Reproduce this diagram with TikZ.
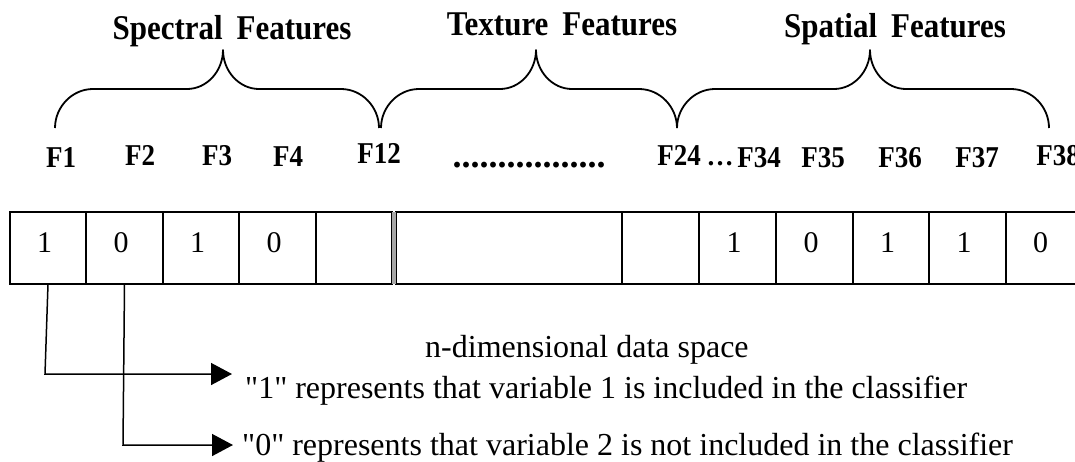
\documentclass[tikz,border=0pt]{standalone}
\usepackage{fontspec}
\setmainfont{Liberation Serif}[Ligatures=TeXOff]
\usetikzlibrary{arrows.meta}

% curly brace over a feature group: left end, tip, right end (x values)
\newcommand\featbrace[3]{%
  \draw[bracket] (#1,128) .. controls (#1,107) and (#1+17,89) .. (#1+38,89)
    -- (#2-36,89) .. controls (#2-16,89) and (#2,71) .. (#2,50)
    .. controls (#2,71) and (#2+16,89) .. (#2+36,89)
    -- (#3-38,89) .. controls (#3-17,89) and (#3,107) .. (#3,128);}
% slightly tall lettering for the headings
\newcommand\tallbox[1]{\scalebox{1}[1.12]{#1}}

\begin{document}
\begin{tikzpicture}[x=1pt,y=-1pt,
  cell/.style={draw, line width=1.6pt, minimum height=72pt, inner sep=0pt, outer sep=0pt},
  bit/.style={font=\fontsize{30}{36}\selectfont, inner sep=0pt},
  flabel/.style={font=\bfseries\fontsize{27}{32}\selectfont, inner sep=0pt, anchor=base},
  group/.style={font=\bfseries\fontsize{31}{37}\selectfont, inner sep=0pt, anchor=base},
  note/.style={font=\fontsize{32}{38}\selectfont, inner sep=0pt, anchor=base west},
  bracket/.style={line width=1.8pt, line join=round},
  conn/.style={line width=1.5pt},
  tip/.style={-{Triangle[length=21pt,width=22pt]}}]
\useasboundingbox (0,0) rectangle (1075,461);

% group titles and braces
\node[group] (gspec) at (232,39) {\tallbox{Spectral\hspace{0.45em}Features}};
\node[group] (gtex)  at (562,35) {\tallbox{Texture\hspace{0.45em}Features}};
\node[group] (gspa)  at (895,37) {\tallbox{Spatial\hspace{0.45em}Features}};
\featbrace{55}{223}{379}
\featbrace{381}{536}{677}
\featbrace{677}{870}{1049}

% feature names
\node[flabel] (f1)  at (61,167)  {\tallbox{F1}};
\node[flabel] (f2)  at (140,165) {\tallbox{F2}};
\node[flabel] (f3)  at (217,165) {\tallbox{F3}};
\node[flabel] (f4)  at (288,166) {\tallbox{F4}};
\node[flabel] (f12) at (379,163) {\tallbox{F12}};
\node[flabel, font=\bfseries\fontsize{36}{40}\selectfont] (fdots) at (529,167) {.................};
\node[flabel] (f24) at (679,165) {\tallbox{F24}};
\node[flabel] (fell) at (720,165) {…};
\node[flabel] (f34) at (759,167) {\tallbox{F34}};
\node[flabel] (f35) at (823,167) {\tallbox{F35}};
\node[flabel] (f36) at (900,167) {\tallbox{F36}};
\node[flabel] (f37) at (977,167) {\tallbox{F37}};
\node[flabel] (f38) at (1058,165) {\tallbox{F38}};

% chromosome cells
\node[cell, minimum width=76pt] (b1)  at (48,248) {};
\node[cell, minimum width=77pt] (b2)  at (124.5,248) {};
\node[cell, minimum width=76pt] (b3)  at (201,248) {};
\node[cell, minimum width=77pt] (b4)  at (277.5,248) {};
\node[cell, minimum width=76pt] (b5)  at (354,248) {};
\node[cell, minimum width=226pt] (w1) at (509,248) {};
\node[cell, minimum width=77pt] (b6)  at (660.5,248) {};
\node[cell, minimum width=77pt] (b7)  at (737.5,248) {};
\node[cell, minimum width=77pt] (b8)  at (814.5,248) {};
\node[cell, minimum width=76pt] (b9)  at (891,248) {};
\node[cell, minimum width=77pt] (b10) at (967.5,248) {};
\node[cell, minimum width=76pt] (b11) at (1044,248) {};
\fill[gray!70] (b5.north east) rectangle (w1.south west);

% bit values
\node[bit] (v1)  at ([shift={(-3.5,-5)}]b1.center)  {1};
\node[bit] (v2)  at ([shift={(-3.5,-5)}]b2.center)  {0};
\node[bit] (v3)  at ([shift={(-3.5,-5)}]b3.center)  {1};
\node[bit] (v4)  at ([shift={(-3.5,-5)}]b4.center)  {0};
\node[bit] (v7)  at ([shift={(-3.5,-5)}]b7.center)  {1};
\node[bit] (v8)  at ([shift={(-3.5,-5)}]b8.center)  {0};
\node[bit] (v9)  at ([shift={(-3.5,-5)}]b9.center)  {1};
\node[bit] (v10) at ([shift={(-3.5,-5)}]b10.center) {1};
\node[bit] (v11) at ([shift={(-3.5,-5)}]b11.center) {0};

% explanation
\node[note] (space) at (425,357) {n-dimensional data space};
\node[note] (one)   at (245,398) {"1" represents that variable 1 is included in the classifier};
\node[note] (zero)  at (242,455) {"0" represents that variable 2 is not included in the classifier};

\coordinate (k1) at (45,374);
\coordinate (e1) at (232,374);
\coordinate (k2) at (123,445);
\coordinate (e2) at (233,445);
\draw[conn, tip] (b1.south) -- (k1) -- (e1);
\draw[conn, tip] (b2.south) -- (k2) -- (e2);
\end{tikzpicture}
\end{document}
